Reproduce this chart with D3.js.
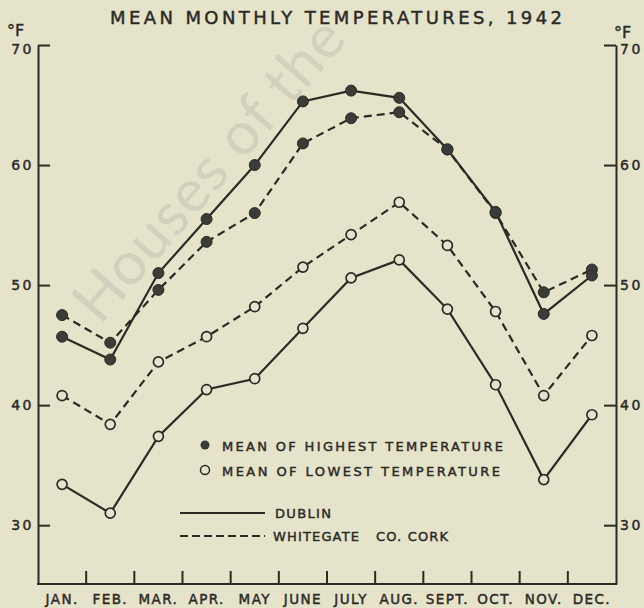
<!DOCTYPE html>
<html>
<head>
<meta charset="UTF-8">
<style>
  body { margin: 0; background: #e5e3ca; }
  svg { display: block; font-family: "DejaVu Sans", sans-serif; }
  .ink-text { stroke: #2b2b26; stroke-width: 0.45px; }
</style>
</head>
<body>
<svg></svg>
<script src="https://cdn.jsdelivr.net/npm/d3@7"></script>
<script>

let width = 644, height = 608;
let ink = "#2b2b26", paper = "#e5e3ca";

// data (deg F)
var months = ["JAN.", "FEB.", "MAR.", "APR.", "MAY", "JUNE", "JULY", "AUG.", "SEPT.", "OCT.", "NOV.", "DEC."];
var dublinHigh    = [45.7, 43.8, 51.0, 55.5, 60.0, 65.3, 66.2, 65.6, 61.3, 56.1, 47.6, 50.8];
var dublinLow     = [33.4, 31.0, 37.4, 41.3, 42.2, 46.4, 50.6, 52.1, 48.0, 41.7, 33.8, 39.2];
var whitegateHigh = [47.5, 45.2, 49.6, 53.6, 56.0, 61.8, 63.9, 64.4, 61.3, 56.0, 49.4, 51.3];
var whitegateLow  = [40.8, 38.4, 43.6, 45.7, 48.2, 51.5, 54.2, 56.9, 53.3, 47.8, 40.8, 45.8];
var yTicks = [30, 40, 50, 60, 70];

let svg = d3.select("svg")
    .attr("width", width)
    .attr("height", height);

svg.append("rect").attr("width", width).attr("height", height).attr("fill", paper);

// faint watermark of the scanned page
svg.append("text")
    .attr("transform", "translate(100,326) rotate(-49)")
    .attr("font-family", "Lato, sans-serif")
    .attr("font-size", 60)
    .attr("fill", "#d3d1bd")
    .attr("letter-spacing", 1)
    .text("Houses of the");

let x = d3.scaleBand().domain(months).range([38, 616]);
let y = d3.scaleLinear().domain([25.1, 70]).range([584, 45]);

// title
svg.append("text").attr("class", "ink-text")
    .attr("x", 110).attr("y", 24)
    .attr("textLength", 452).attr("lengthAdjust", "spacing")
    .attr("font-size", 18).attr("fill", ink)
    .text("MEAN MONTHLY TEMPERATURES, 1942");

// unit labels
svg.append("text").attr("class", "ink-text").attr("x", 7).attr("y", 36)
    .attr("font-size", 16).attr("fill", ink).text("°F");
svg.append("text").attr("class", "ink-text").attr("x", 614).attr("y", 38)
    .attr("font-size", 16).attr("fill", ink).text("°F");

// axes
let leftAxis = d3.axisLeft(y).tickValues(yTicks).tickSizeInner(-12).tickSizeOuter(0).tickPadding(4);
let rightAxis = d3.axisRight(y).tickValues(yTicks).tickSizeInner(-12).tickSizeOuter(0).tickPadding(4);

function styleAxis(g) {
    g.select(".domain").attr("stroke", ink).attr("stroke-width", 2);
    g.selectAll(".tick line").attr("stroke", ink).attr("stroke-width", 2);
    g.selectAll(".tick text")
        .attr("class", "ink-text")
        .attr("fill", ink)
        .attr("font-size", 14)
        .attr("letter-spacing", 2.5)
        .attr("font-family", "DejaVu Sans, sans-serif");
    // top label sits a little below its tick, as in the original
    g.selectAll(".tick text").filter(d => d === 70).attr("dy", "0.62em");
}

svg.append("g").attr("transform", "translate(38,0)").call(leftAxis).call(styleAxis);
svg.append("g").attr("transform", "translate(616,0)").call(rightAxis).call(styleAxis);

// bottom axis: labels at band centres, ticks on month boundaries
let bottom = svg.append("g").attr("transform", "translate(0,584)")
    .call(d3.axisBottom(x).tickSize(0).tickPadding(10))
    .call(styleAxis);
bottom.selectAll(".tick text").attr("font-size", 13.5).attr("letter-spacing", 1.4);
bottom.select(".domain").attr("d", "M37,0H617");

bottom.selectAll(".divider")
    .data(months.slice(1))
    .enter().append("line")
    .attr("x1", d => x(d)).attr("x2", d => x(d))
    .attr("y1", 0).attr("y2", -13)
    .attr("stroke", ink).attr("stroke-width", 2);

// series
let line = d3.line()
    .x((d, i) => x(months[i]) + x.bandwidth() / 2)
    .y(d => y(d));

let series = [
    { values: whitegateHigh, dash: "8,5", filled: true },
    { values: whitegateLow, dash: "8,5", filled: false },
    { values: dublinHigh, dash: null, filled: true },
    { values: dublinLow, dash: null, filled: false }
];

series.forEach(s => {
    svg.append("path")
        .datum(s.values)
        .attr("d", line)
        .attr("fill", "none")
        .attr("stroke", ink)
        .attr("stroke-width", 2.2)
        .attr("stroke-dasharray", s.dash);
});

series.forEach(s => {
    svg.append("g")
        .selectAll("circle")
        .data(s.values)
        .enter().append("circle")
        .attr("cx", (d, i) => x(months[i]) + x.bandwidth() / 2)
        .attr("cy", d => y(d))
        .attr("r", s.filled ? 5.5 : 5)
        .attr("fill", s.filled ? "#3c3c36" : paper)
        .attr("stroke", ink)
        .attr("stroke-width", s.filled ? 1 : 1.7);
});

// legend
let legend = svg.append("g").attr("fill", ink).attr("font-size", 13);
legend.append("circle").attr("cx", 205).attr("cy", 445).attr("r", 4.5).attr("fill", "#3c3c36");
legend.append("text").attr("class", "ink-text").attr("x", 222).attr("y", 451)
    .attr("textLength", 281).attr("lengthAdjust", "spacing")
    .text("MEAN OF HIGHEST TEMPERATURE");
legend.append("circle").attr("cx", 205).attr("cy", 470).attr("r", 4.5)
    .attr("fill", "none").attr("stroke", ink).attr("stroke-width", 1.5);
legend.append("text").attr("class", "ink-text").attr("x", 222).attr("y", 476)
    .attr("textLength", 278).attr("lengthAdjust", "spacing")
    .text("MEAN OF LOWEST TEMPERATURE");
legend.append("line").attr("x1", 180).attr("x2", 265).attr("y1", 513).attr("y2", 513)
    .attr("stroke", ink).attr("stroke-width", 2);
legend.append("text").attr("class", "ink-text").attr("x", 275).attr("y", 518)
    .attr("textLength", 56).attr("lengthAdjust", "spacing")
    .text("DUBLIN");
legend.append("line").attr("x1", 180).attr("x2", 265).attr("y1", 536).attr("y2", 536)
    .attr("stroke", ink).attr("stroke-width", 2).attr("stroke-dasharray", "8,4");
legend.append("text").attr("class", "ink-text").attr("x", 273).attr("y", 541)
    .attr("textLength", 175).attr("lengthAdjust", "spacing")
    .attr("xml:space", "preserve")
    .text("WHITEGATE   CO. CORK");

</script>
</body>
</html>
